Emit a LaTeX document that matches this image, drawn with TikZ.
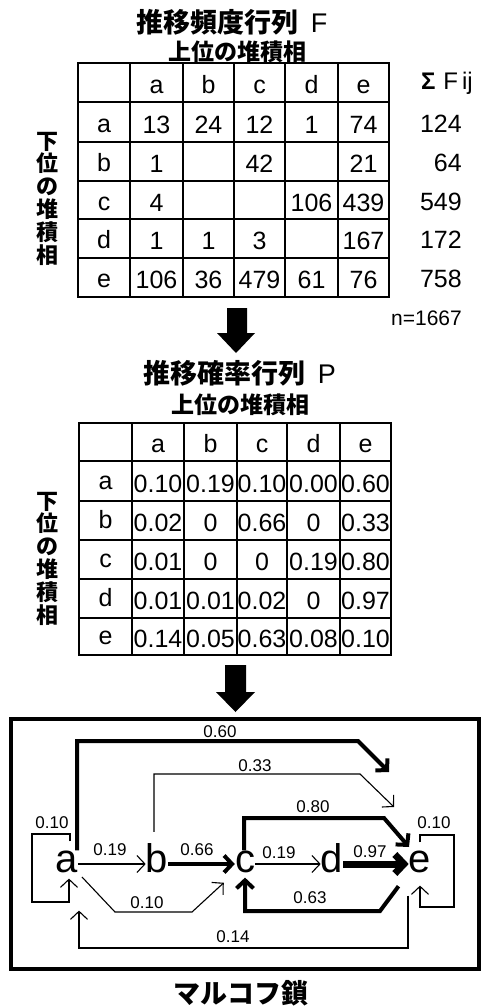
\documentclass[tikz,border=0pt]{standalone}
\usepackage{fontspec}
\setmainfont{Liberation Sans}
\newfontfamily\jp{Noto Sans CJK JP}
\usetikzlibrary{arrows.meta}
\begin{document}
\begin{tikzpicture}[x=1pt,y=-1pt,
  cell/.style={font=\fontsize{25}{25}\selectfont, inner sep=0pt, anchor=base},
  rowsum/.style={font=\fontsize{25}{25}\selectfont, inner sep=0pt, anchor=base east},
  ttl/.style={font=\jp\bfseries\fontsize{27}{27}\selectfont, inner sep=0pt},
  sub/.style={font=\jp\bfseries\fontsize{23}{23}\selectfont, inner sep=0pt},
  vlab/.style={font=\jp\bfseries\fontsize{22}{22.8}\selectfont, align=center, inner sep=0pt},
  gridline/.style={line width=1.3pt},
  frame/.style={line width=2.4pt},
  state/.style={font=\fontsize{40}{40}\selectfont, inner sep=0pt, anchor=base},
  prob/.style={font=\fontsize{17}{17}\selectfont, inner sep=0pt},
  thn/.style={line width=1.1pt, -{Straight Barb[length=8pt,width=17pt]}},
  thk/.style={line width=4pt, -{Straight Barb[length=8pt,width=17pt]}},
  thkk/.style={line width=7pt, -{Straight Barb[length=9pt,width=19pt]}},
]
\useasboundingbox (0,0) rectangle (482,1006);

% ---------------- Table F ----------------
\node[ttl] (t1) at (232,22) {推移頻度行列\hspace{12pt}{\rmfamily\mdseries F}};
\node[sub] (s1) at (237.5,52) {上位の堆積相};
\node[vlab] (v1) at (47,198.5) {下\\位\\の\\堆\\積\\相};
\draw[gridline] foreach \x in {130,183,234,285,338} {(\x,63) -- (\x,297)};
\draw[gridline] foreach \y in {102,142,181,219,258} {(78,\y) -- (389,\y)};
\draw[frame] (78,63) rectangle (389,297);
\foreach \l [count=\i] in {a,b,c,d,e} {
  \pgfmathsetmacro\xx{{104,156.5,208.5,259.5,311.5,363.5}[\i]}
  \node[cell] (fh\i) at (\xx,93.5) {\l};
}
\foreach \rl/\vals/\sm [count=\r] in {a/{13,24,12,1,74}/124, b/{1,{},42,{},21}/64, c/{4,{},{},106,439}/549, d/{1,1,3,{},167}/172, e/{106,36,479,61,76}/758} {
  \pgfmathsetmacro\yy{{82.5,122,161.5,200,238.5,277.5}[\r]+11}
  \node[cell] (fr\r) at (104,\yy-1) {\rl};
  \foreach \v [count=\c] in \vals {
    \pgfmathsetmacro\xx{{104,156.5,208.5,259.5,311.5,363.5}[\c]}
    \node[cell] (f\r\c) at (\xx,\yy) {\v};
  }
  \node[rowsum] (fs\r) at (462,\yy-1) {\sm};
}
\node[font=\fontsize{24}{24}\selectfont, inner sep=0pt, anchor=base east] (sig) at (473,90) {{\bfseries Σ}\hspace{8pt}F\,ij};
\node[font=\fontsize{21}{21}\selectfont, inner sep=0pt, anchor=base east] (nn) at (462,325) {n=1667};

% big arrow 1
\fill (227,308) -- (247,308) -- (247,333) -- (255,333) -- (236,353) -- (217,333) -- (227,333) -- cycle;

% ---------------- Table P ----------------
\node[ttl] (t2) at (240,373) {推移確率行列\hspace{12pt}{\rmfamily\mdseries P}};
\node[sub] (s2) at (240,405) {上位の堆積相};
\node[vlab] (v2) at (47,558.5) {下\\位\\の\\堆\\積\\相};
\draw[gridline] foreach \x in {132,184,237,287,340} {(\x,423) -- (\x,655)};
\draw[gridline] foreach \y in {461,501,540,579,618} {(79,\y) -- (391,\y)};
\draw[frame] (79,423) rectangle (391,655);
\foreach \l [count=\i] in {a,b,c,d,e} {
  \pgfmathsetmacro\xx{{105.5,158,210.5,262,313.5,365.5}[\i]}
  \node[cell] (ph\i) at (\xx,452) {\l};
}
\foreach \rl/\vals [count=\r] in {a/{0.10,0.19,0.10,0.00,0.60}, b/{0.02,0,0.66,0,0.33}, c/{0.01,0,0,0.19,0.80}, d/{0.01,0.01,0.02,0,0.97}, e/{0.14,0.05,0.63,0.08,0.10}} {
  \pgfmathsetmacro\yy{{442,481,520.5,559.5,598.5,636.5}[\r]+11}
  \node[cell] (pr\r) at (105.5,\yy-3) {\rl};
  \foreach \v [count=\c] in \vals {
    \pgfmathsetmacro\xx{{105.5,158,210.5,262,313.5,365.5}[\c]}
    \node[cell] (p\r\c) at (\xx,\yy) {\v};
  }
}

% big arrow 2
\fill (225,665) -- (246,665) -- (246,692) -- (255,692) -- (235.5,712) -- (216,692) -- (225,692) -- cycle;

% ---------------- Markov chain ----------------
\draw[line width=4pt] (11,719) rectangle (479,969);
\node[state] (a) at (66.5,872) {a};
\node[state] (b) at (157,872) {b};
\node[state] (c) at (245,872) {c};
\node[state] (d) at (332,872) {d};
\node[state] (e) at (420,872) {e};

% a -> e 0.60
\draw[thk] (a.north -| 77,0) |- (358,741) -- (389,772);
\node[prob] (l60) at (220,732) {0.60};
% b -> e 0.33
\draw[thn, shorten <=11pt] (b.north -| 154,0) |- (360,774) -- (394,807);
\node[prob] (l33) at (255,766) {0.33};
% c -> e 0.80
\draw[thk] (c.north -| 244,0) |- (384,818) -- (409,847);
\node[prob] (l80) at (313,807) {0.80};
% a -> b
\draw[thn] (a.east |- 0,864) -- (b.west |- 0,864);
\node[prob] (l19a) at (110,850) {0.19};
% b -> c
\draw[thk] (b.east |- 0,864) -- (c.west |- 0,864);
\node[prob] (l66) at (197,850) {0.66};
% c -> d
\draw[thn] (c.east |- 0,864) -- (d.west |- 0,864);
\node[prob] (l19c) at (279,853) {0.19};
% d -> e
\draw[thkk] (d.east |- 0,864) -- (e.west |- 0,864);
\node[prob] (l97) at (370,852) {0.97};
% e -> c 0.63
\draw[thk, shorten <=17pt] (e.south west) -- (380,911) -| ([yshift=-5pt]c.south);
\node[prob] (l63) at (310,898) {0.63};
% a -> c 0.10
\draw[thn, shorten <=6pt, shorten >=15pt] (a.south east) -- (115,912) -- (192,912) -- (c.south west);
\node[prob] (l10ac) at (147,903) {0.10};
% e -> a 0.14
\draw[thn, shorten <=23pt, shorten >=38pt] (e.south -| 408,0) |- (79,948) -- (a.south -| 79,0);
\node[prob] (l14) at (233,937) {0.14};
% a -> a 0.10
\draw[thn, shorten <=9pt, shorten >=6pt] (a.north -| 70,0) -- (70,834) -- (32,834) -- (32,902) -- (69,902) -- (a.south -| 69,0);
\node[prob] (l10a) at (52,823) {0.10};
% e -> e 0.10
\draw[thn, shorten <=8pt, shorten >=13pt] (e.north) -- (420,835) -- (454,835) -- (454,907) -- (420,907) -- (e.south);
\node[prob] (l10e) at (434,823) {0.10};

\node[font=\jp\bfseries\fontsize{27}{27}\selectfont, inner sep=0pt] (cap) at (241,993) {マルコフ鎖};
\end{tikzpicture}
\end{document}
